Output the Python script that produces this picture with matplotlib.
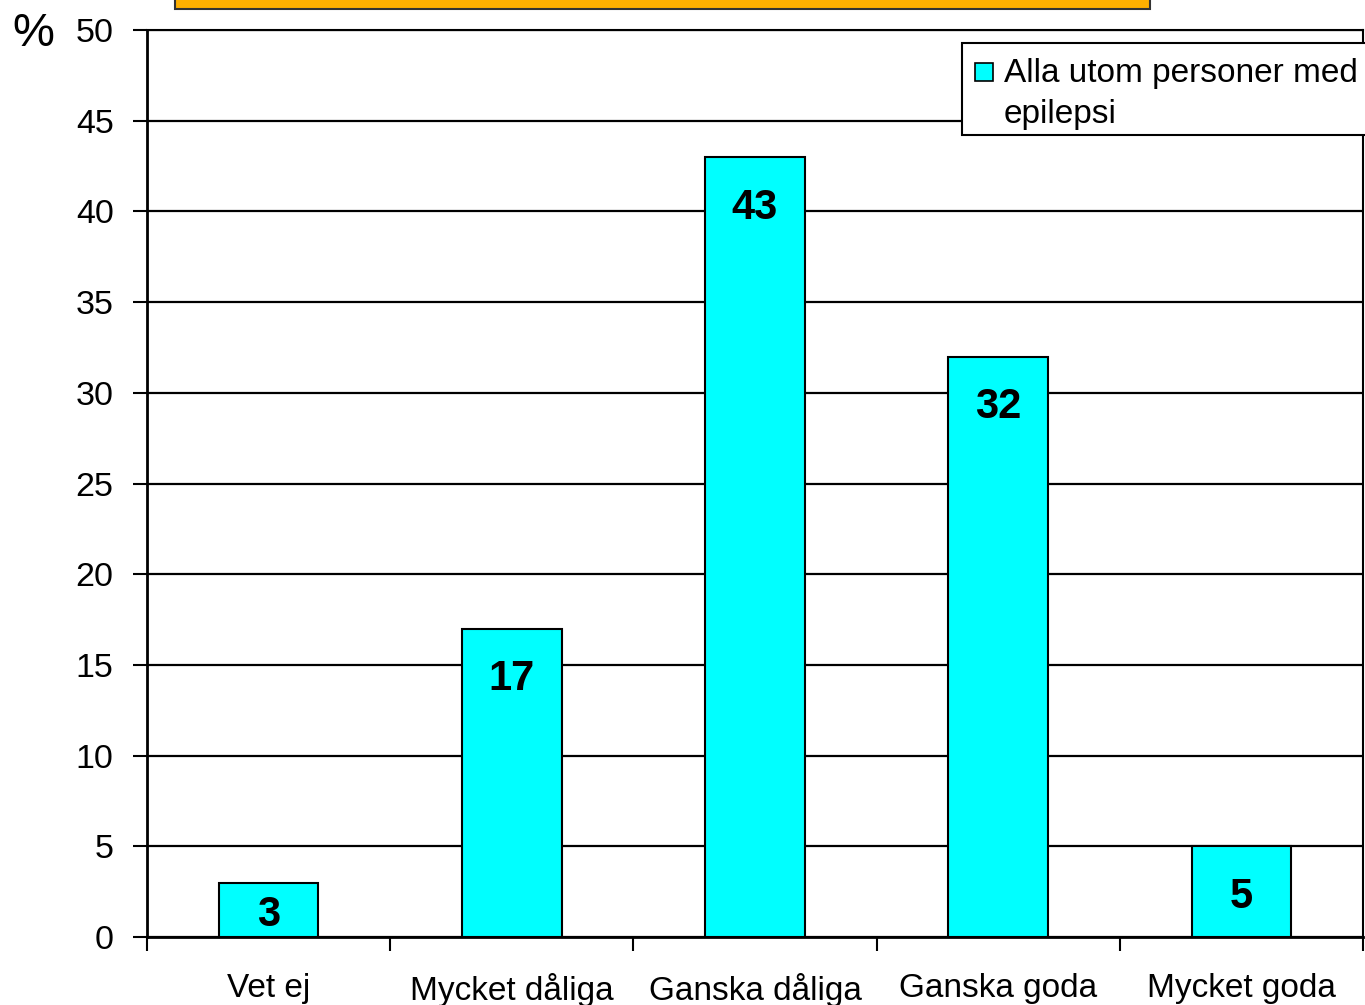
import matplotlib
matplotlib.use("Agg")
import numpy as np
from matplotlib import pyplot as plt
from matplotlib.patches import Rectangle

plt.rcParams['font.family'] = ['Liberation Sans', 'DejaVu Sans']

# data
categories = ["Vet ej", "Mycket dåliga", "Ganska dåliga", "Ganska goda", "Mycket goda"]
values = [3, 17, 43, 32, 5]
series_name = "Alla utom personer med\nepilepsi"
yticks = list(range(0, 55, 5))

fig = plt.figure(figsize=(13.65, 10.05), dpi=100)
ax = fig.add_axes([147/1365, 68/1005, 1216/1365, 907/1005])

x = np.arange(len(categories))
ax.bar(x, values, width=0.41, color="#00FFFF", edgecolor="black", linewidth=1.5, zorder=3)

# value labels, bold, just under the top of each bar
for xi, v in zip(x, values):
    ax.text(xi, max(v - 2.8, 0.4 * v), str(v), ha="center", va="center",
            fontsize=30, fontweight="bold", zorder=4)

ax.set_xlim(-0.5, len(categories) - 0.5)
ax.set_ylim(0, 50)
ax.set_yticks(yticks)
ax.yaxis.grid(True, color="black", linewidth=1.6, zorder=0)
ax.set_axisbelow(True)

ax.set_xticks(x)
ax.set_xticklabels(categories, fontsize=24)
ax.set_xticks(np.arange(-0.5, len(categories), 1.0), minor=True)
ax.tick_params(axis="x", which="major", length=0, pad=26)
ax.tick_params(axis="x", which="minor", length=10, width=1.5, direction="out")
ax.tick_params(axis="y", length=10, width=1.5, direction="out", pad=14, labelsize=24.5)

for side in ["left", "bottom"]:
    ax.spines[side].set_linewidth(2)
for side in ["top", "right"]:
    ax.spines[side].set_linewidth(1.5)

# legend drawn by hand so the swatch sits on the first line
ax.add_patch(Rectangle((962/1365, (1005-135)/1005), 410/1365, 92/1005,
                       transform=fig.transFigure, facecolor="white",
                       edgecolor="black", linewidth=1.5, zorder=5, clip_on=False))
ax.add_patch(Rectangle((975/1365, (1005-81)/1005), 18/1365, 18/1005,
                       transform=fig.transFigure, facecolor="#00FFFF",
                       edgecolor="black", linewidth=1.2, zorder=6, clip_on=False))
fig.text(1004/1365, (1005-58)/1005, series_name, fontsize=24, ha="left", va="top",
         linespacing=1.4, zorder=7)

# "%" unit label
fig.text(33/1365, 1 - 34/1005, "%", fontsize=34, ha="center", va="center")

# orange title box, cut off at the top edge
fig.patches.append(Rectangle((175/1365, (1005-9)/1005), 975/1365, 40/1005,
                             transform=fig.transFigure, facecolor="#FFB000",
                             edgecolor="#333333", linewidth=1.5))

fig.savefig("out.png", dpi=100)
